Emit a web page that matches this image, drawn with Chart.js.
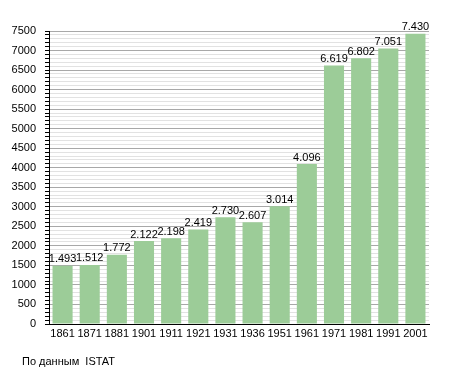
<!DOCTYPE html>
<html>
<head>
<meta charset="utf-8">
<script src="https://cdn.jsdelivr.net/npm/chart.js@4/dist/chart.umd.min.js"></script>
<style>
  html, body { margin: 0; padding: 0; background: #fff; }
  #wrap { position: relative; width: 455px; height: 373px; }
  #source { position: absolute; left: 22px; top: 355px; font: 11px "Liberation Sans", Arial, sans-serif; color: #000; }
</style>
</head>
<body>
<div id="wrap">
  <canvas id="chart" width="455" height="373"></canvas>
  <div id="source">По данным&nbsp; ISTAT</div>
</div>
<script>
const years = ['1861', '1871', '1881', '1901', '1911', '1921', '1931', '1936', '1951', '1961', '1971', '1981', '1991', '2001'];
const population = [1493, 1512, 1772, 2122, 2198, 2419, 2730, 2607, 3014, 4096, 6619, 6802, 7051, 7430];
const yMax = 7500;

const fmt = v => String(v).replace(/\B(?=(\d{3})+(?!\d))/g, '.');

// values written above each bar
const barLabels = {
    id: 'barLabels',
    afterDatasetsDraw(chart) {
        const ctx = chart.ctx;
        const meta = chart.getDatasetMeta(0);
        ctx.save();
        ctx.font = '11px "Liberation Sans", Arial, sans-serif';
        ctx.fillStyle = '#000';
        ctx.textAlign = 'center';
        ctx.textBaseline = 'bottom';
        meta.data.forEach((bar, i) => {
            ctx.fillText(fmt(population[i]), bar.x, bar.y - 1);
        });
        ctx.restore();
    }
};

new Chart(document.getElementById('chart').getContext('2d'), {
    type: 'bar',
    data: {
        labels: years,
        datasets: [{
            data: population,
            backgroundColor: '#9ccc98',
            borderWidth: 0,
            barPercentage: 0.74,
            categoryPercentage: 1
        }]
    },
    options: {
        responsive: false,
        animation: false,
        layout: { padding: { left: 0, top: 31, right: 26, bottom: 29 } },
        plugins: { legend: { display: false }, tooltip: { enabled: false } },
        scales: {
            x: {
                grid: { display: false, drawTicks: false },
                border: { color: '#000', width: 1 },
                ticks: { color: '#000', padding: 3, font: { size: 11, family: '"Liberation Sans", Arial, sans-serif' }, maxRotation: 0, autoSkip: false },
                afterFit(scale) { scale.height = 20; }
            },
            y: {
                min: 0,
                max: yMax,
                grid: {
                    color: c => c.tick && c.tick.value % 500 === 0 ? '#a8a8a8' : '#e2e2e2',
                    tickColor: '#000',
                    tickLength: 4
                },
                border: { color: '#000', width: 1 },
                ticks: {
                    stepSize: 100,
                    autoSkip: false,
                    color: '#000',
                    padding: 9,
                    font: { size: 11, family: '"Liberation Sans", Arial, sans-serif' },
                    callback: v => v % 500 === 0 ? String(v) : ''
                },
                afterFit(scale) { scale.width = 49; }
            }
        }
    },
    plugins: [barLabels]
});
</script>
</body>
</html>
